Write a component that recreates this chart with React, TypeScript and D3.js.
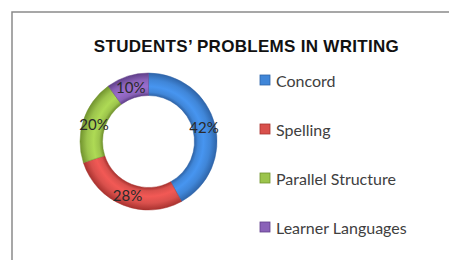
import * as d3 from 'd3';

const categories = ['Concord', 'Spelling', 'Parallel Structure', 'Learner Languages'];
const values = [42, 28, 20, 10];
const colors = ['#4086d8', '#d9504c', '#9cc44c', '#8a62b8'];
const edgeColors = ['#2e64a8', '#a8322f', '#71932e', '#603f8a'];

const W = 449;
const H = 260;
const cx = 148.5;
const cy = 141.5;
const outerR = 68.5;
const innerR = 46;

export default function App() {
    const pie = d3.pie<number>().sort(null).value((d) => d);
    const arcs = pie(values);
    const arc = d3.arc<d3.PieArcDatum<number>>().innerRadius(innerR).outerRadius(outerR);
    const labelArc = d3
        .arc<d3.PieArcDatum<number>>()
        .innerRadius((innerR + outerR) / 2)
        .outerRadius((innerR + outerR) / 2);
    const f = innerR / outerR;

    const legendY = d3.scalePoint<string>().domain(categories).range([80, 227]);

    return (
        <svg
            width={W}
            height={H}
            viewBox={`0 0 ${W} ${H}`}
            style={{ position: 'fixed', left: 0, top: 0, background: '#fff' }}
        >
            <defs>
                {colors.map((c, i) => (
                    <radialGradient key={i} id={`ring-${i}`} gradientUnits="userSpaceOnUse" cx={0} cy={0} r={outerR}>
                        <stop offset={f} stopColor={edgeColors[i]} />
                        <stop offset={f + 0.05} stopColor={c} />
                        <stop offset={f + 0.13} stopColor={d3.color(c)!.brighter(0.3).toString()} />
                        <stop offset={0.9} stopColor={c} />
                        <stop offset={1} stopColor={edgeColors[i]} />
                    </radialGradient>
                ))}
            </defs>

            <rect width={W} height={H} fill="#fff" />
            <path d={`M12,${H} L12,12 L${W},12`} fill="none" stroke="#8a8a8a" strokeWidth={1.5} />

            <text
                x={246.5}
                y={52}
                textAnchor="middle"
                fontFamily="'Liberation Sans', Arial, sans-serif"
                fontWeight="bold"
                fontSize={17}
                letterSpacing={0.3}
                fill="#111"
            >
                STUDENTS’ PROBLEMS IN WRITING
            </text>

            <g transform={`translate(${cx},${cy})`}>
                {arcs.map((a, i) => (
                    <path
                        key={i}
                        d={arc(a) ?? ''}
                        fill={`url(#ring-${i})`}
                        stroke={edgeColors[i]}
                        strokeWidth={0.8}
                        strokeOpacity={0.6}
                    />
                ))}
                {arcs.map((a, i) => {
                    const [x, y] = labelArc.centroid(a);
                    return (
                        <text
                            key={i}
                            x={x}
                            y={y}
                            textAnchor="middle"
                            dominantBaseline="central"
                            fontFamily="Lato, 'Open Sans', sans-serif"
                            fontSize={15}
                            fill="#2a2a2a"
                        >
                            {values[i]}%
                        </text>
                    );
                })}
            </g>

            {categories.map((c, i) => (
                <g key={c} transform={`translate(260,${legendY(c)})`}>
                    <rect x={0} y={-5} width={10} height={10} fill={colors[i]} stroke={edgeColors[i]} strokeWidth={0.8} />
                    <text
                        x={16}
                        y={0}
                        dominantBaseline="central"
                        fontFamily="Lato, 'Open Sans', sans-serif"
                        fontSize={16}
                        fill="#404040"
                    >
                        {c}
                    </text>
                </g>
            ))}
        </svg>
    );
}
